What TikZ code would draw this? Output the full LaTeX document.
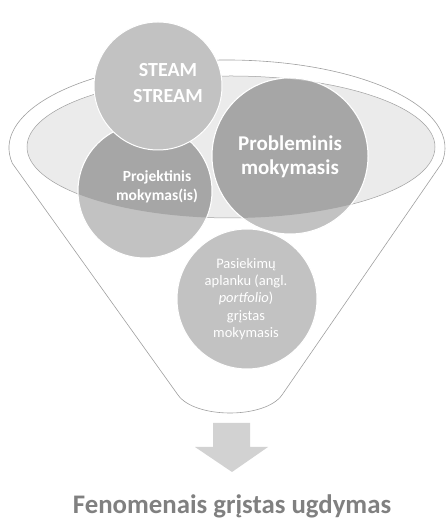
\documentclass[tikz,border=0pt]{standalone}
\usepackage{fontspec}
\setmainfont{Carlito}
\definecolor{rimline}{HTML}{A0A0A0}
\definecolor{hollow}{HTML}{EBEBEB}
\definecolor{bubblelight}{HTML}{C2C2C2}
\definecolor{bubbledark}{HTML}{A6A6A6}
\definecolor{arrowgray}{HTML}{D2D2D2}
\definecolor{resulttext}{HTML}{808080}
\tikzset{
  bubble/.style={circle, draw=white, line width=1pt, fill=bubblelight, inner sep=0pt, minimum size=#1},
  bubbletext/.style={text=white, align=center, inner sep=0pt},
}
\begin{document}
\begin{tikzpicture}[x=1pt, y=1pt]
  \useasboundingbox (0,0) rectangle (446,521);
  \draw[rimline, line width=0.6pt, fill=white]
    (227,373) ++(190:218 and 88) arc[start angle=190, end angle=-10, x radius=218, y radius=88]
    -- (282,126) .. controls (265,102) and (195,102) .. (178,126) -- cycle;
  \draw[rimline, line width=0.5pt, fill=hollow] (231,374) ellipse [x radius=204, y radius=71];
  \node[bubble=134pt] (proj) at (145,330) {};
  \node[bubble=156pt] (prob) at (290,365) {};
  \begin{scope}
    \clip (231,374) ellipse [x radius=204, y radius=71];
    \filldraw[fill=bubbledark, draw=white, line width=1pt] (proj) circle [radius=67];
    \filldraw[fill=bubbledark, draw=white, line width=1pt] (prob) circle [radius=78];
  \end{scope}
  \node[bubble=140pt] (port) at (247,222) {};
  \node[bubble=128pt] (steam) at (158,435) {};
  \node[bubbletext, font=\bfseries\fontsize{20}{26}\selectfont] (steamtxt) at (168,438) {STEAM\\STREAM};
  \node[bubbletext, font=\bfseries\fontsize{21}{24}\selectfont] (probtxt) at (290,364) {Probleminis\\mokymasis};
  \node[bubbletext, font=\bfseries\fontsize{15.5}{18.5}\selectfont] (projtxt) at (157,334) {Projektinis\\mokymas(is)};
  \node[bubbletext, font=\fontsize{14.5}{17.3}\selectfont] (porttxt) at (246,222)
    {Pasiekimų\\aplanku (angl.\\\textit{portfolio})\\grįstas\\mokymasis};
  \fill[arrowgray] (213,98) -- (250,98) -- (250,74) -- (268,74) -- (232,49) -- (195,74) -- (213,74) -- cycle;
  \node[anchor=base, text=resulttext, font=\bfseries\fontsize{26.8}{30}\selectfont, inner sep=0pt] (result) at (232,7)
    {Fenomenais grįstas ugdymas};
\end{tikzpicture}
\end{document}
